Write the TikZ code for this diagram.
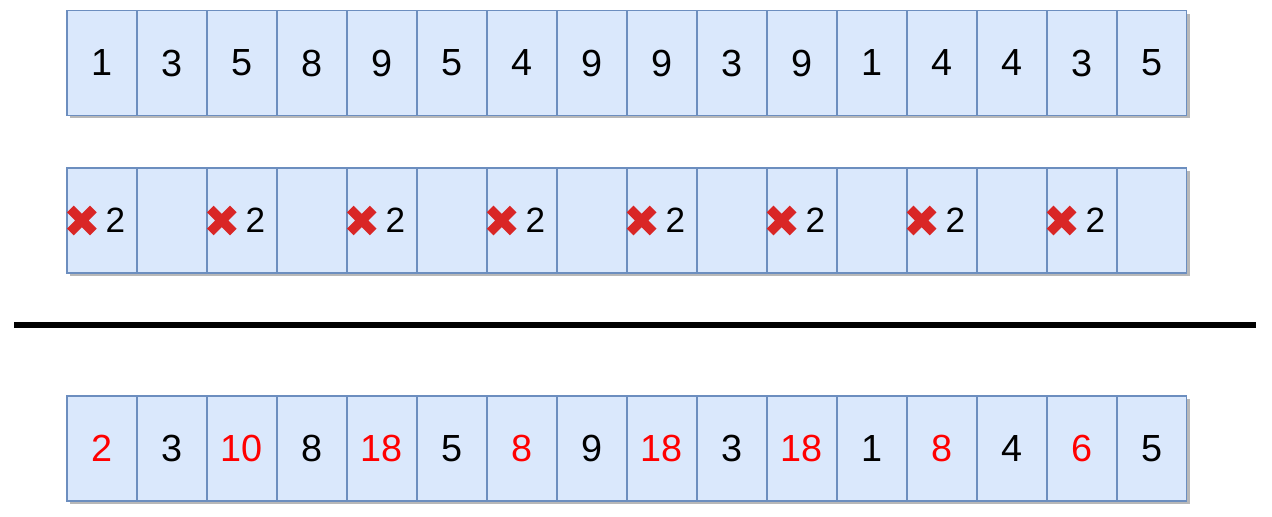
\documentclass[tikz,border=0pt]{standalone}
\usepackage{fontspec}
\setmainfont{Liberation Sans}
\usetikzlibrary{positioning,shapes,shadows}
\definecolor{cellfill}{HTML}{DAE8FC}
\definecolor{celldraw}{HTML}{6C8EBF}
\definecolor{xred}{HTML}{D92626}

\begin{document}
\begin{tikzpicture}[x=0.02cm,y=-0.02cm,node distance=1.4cm,on grid,
   cell/.style={rectangle,draw=celldraw,fill=cellfill,line width=0.8pt,
     minimum width=1.4cm,minimum height=2.1cm,inner sep=0pt,
     font=\fontsize{21.5}{26}\selectfont,
     drop shadow={shadow xshift=0.06cm,shadow yshift=-0.06cm,opacity=1,fill=black!28}},
   hit/.style={text=red},
   xmark/.style={cross out,draw=xred,line width=0.19cm,minimum size=0.46cm,inner sep=0pt,outer sep=0pt},
   two/.style={font=\fontsize{20}{24}\selectfont}]
   \useasboundingbox (0,0) rectangle (1272,517);
   % input
   \node[cell] (a1) at (102,63) {1};
   \foreach \v [count=\i from 2] in {3,5,8,9,5,4,9,9,3,9,1,4,4,3,5} {
      \pgfmathtruncatemacro\j{\i-1}
      \node[cell] (a\i) [right=of a\j] {\v};
   }
   % doubled slots
   \node[cell] (b1) at (102,220.5) {};
   \foreach \i in {2,...,16} {
      \pgfmathtruncatemacro\j{\i-1}
      \node[cell] (b\i) [right=of b\j] {};
   }
   \foreach \i in {1,3,...,15} {
      \node[xmark] (x\i) at ([xshift=0.31cm]b\i.west) {};
      \node[two] (t\i) at ([xshift=0.27cm]b\i.center) {2};
   }
   % separator
   \coordinate (l1) at (14,325);
   \coordinate (l2) at (1256,325);
   \draw[line width=0.11cm] (l1) -- (l2);
   % result
   \node[cell,hit] (c1) at (102,448.5) {2};
   \foreach \v/\c [count=\i from 2] in {3/black,10/red,8/black,18/red,5/black,8/red,9/black,
         18/red,3/black,18/red,1/black,8/red,4/black,6/red,5/black} {
      \pgfmathtruncatemacro\j{\i-1}
      \node[cell,text=\c] (c\i) [right=of c\j] {\v};
   }
\end{tikzpicture}
\end{document}
